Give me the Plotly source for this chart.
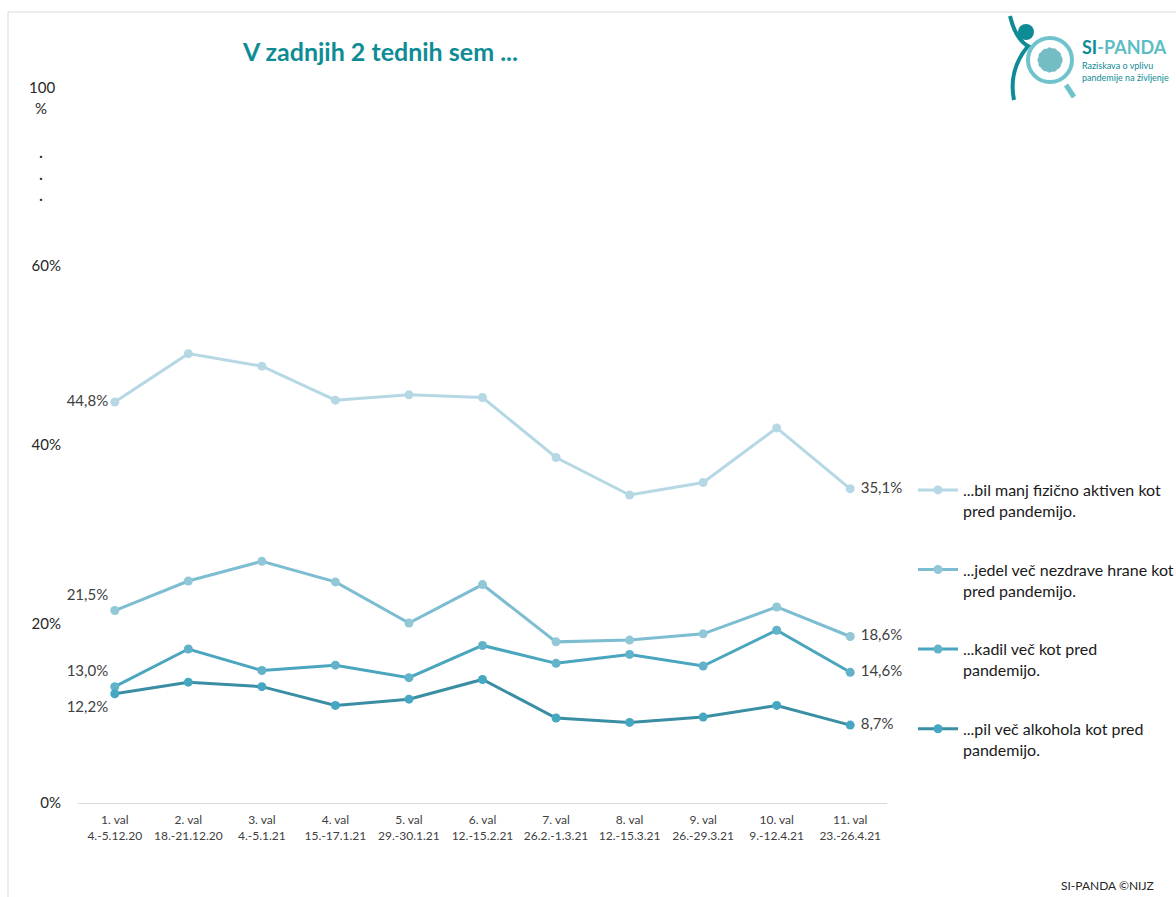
import plotly.graph_objects as go

categories = ["1. val<br>4.-5.12.20", "2. val<br>18.-21.12.20", "3. val<br>4.-5.1.21",
              "4. val<br>15.-17.1.21", "5. val<br>29.-30.1.21", "6. val<br>12.-15.2.21",
              "7. val<br>26.2.-1.3.21", "8. val<br>12.-15.3.21", "9. val<br>26.-29.3.21",
              "10. val<br>9.-12.4.21", "11. val<br>23.-26.4.21"]

manj_aktiven = [44.8, 50.2, 48.8, 45.0, 45.6, 45.3, 38.6, 34.4, 35.8, 41.9, 35.1]
nezdrava_hrana = [21.5, 24.8, 27.0, 24.7, 20.1, 24.4, 18.0, 18.2, 18.9, 21.9, 18.6]
kadil = [13.0, 17.2, 14.8, 15.4, 14.0, 17.6, 15.6, 16.6, 15.3, 19.3, 14.6]
alkohol = [12.2, 13.5, 13.0, 10.9, 11.6, 13.8, 9.5, 9.0, 9.6, 10.9, 8.7]

y_tickvals = [0, 20, 40, 60]
y_ticktext = ["0%", "20%", "40%", "60%"]

names = ["...bil manj fizično aktiven kot<br>pred pandemijo.",
         "...jedel več nezdrave hrane kot<br>pred pandemijo.",
         "...kadil več kot pred<br>pandemijo.",
         "...pil več alkohola kot pred<br>pandemijo."]
series = [manj_aktiven, nezdrava_hrana, kadil, alkohol]
line_colors = ["#B6D8E4", "#7DBDD1", "#4AA6BF", "#3A8EA3"]
marker_colors = ["#B6D8E4", "#92C7D8", "#62B3C9", "#45A7C1"]
first_pos = ["middle left", "top left", "top left", "bottom left"]

FONT = "Lato"

def fmt(v):
    return f"{v:.1f}".replace(".", ",") + "%"

fig = go.Figure()
for i, (nm, vals) in enumerate(zip(names, series)):
    n = len(vals)
    texts = [fmt(vals[0])] + [""] * (n - 2) + [" " + fmt(vals[-1])]
    pos = [first_pos[i]] + ["middle right"] * (n - 1)
    fig.add_trace(go.Scatter(
        x=categories, y=vals, name=nm, mode="lines+markers+text",
        line=dict(color=line_colors[i], width=3),
        marker=dict(color=marker_colors[i], size=9),
        text=texts, textposition=pos,
        textfont=dict(family=FONT, size=15, color="#404040"),
        legendgroup=f"g{i}", cliponaxis=False,
    ))

W, H = 1176, 897
L, R, T, B = 78, 289, 248, 94
pw, ph = W - L - R, H - T - B

def px(x):
    return (x - L) / pw

def py(y):
    return (H - B - y) / ph

fig.update_layout(
    width=W, height=H,
    margin=dict(l=L, r=R, t=T, b=B, autoexpand=False),
    plot_bgcolor="white", paper_bgcolor="white",
    font=dict(family=FONT, color="#262626"),
    title=dict(text="<b>V zadnjih 2 tednih sem ...</b>", x=243 / W, xanchor="left",
               xref="container", y=1 - 52 / H, yanchor="middle", yref="container",
               font=dict(family=FONT, size=25, color="#0E8C96")),
    xaxis=dict(type="category", range=[-0.5, 10.5], showgrid=False,
               showline=True, linecolor="#D9D9D9", linewidth=1,
               tickfont=dict(family=FONT, size=12, color="#404040"), ticks="",
               ticklabelstandoff=6),
    yaxis=dict(range=[0, 62], tickvals=y_tickvals, ticktext=y_ticktext,
               showgrid=False, zeroline=False, showline=False,
               tickfont=dict(family=FONT, size=15, color="#262626"), ticks="",
               ticklabelstandoff=16),
    legend=dict(x=px(913), xanchor="left", y=py(473), yanchor="top",
                font=dict(family=FONT, size=16, color="#1a1a1a"),
                tracegroupgap=35, valign="top", itemwidth=40,
                bgcolor="rgba(0,0,0,0)"),
    showlegend=True,
)

annots = [
    dict(text="100", x=px(42), y=py(87)),
    dict(text="%", x=px(41), y=py(108)),
    dict(text="·", x=px(41), y=py(155)),
    dict(text="·", x=px(41), y=py(177)),
    dict(text="·", x=px(41), y=py(198)),
]
for a in annots:
    fig.add_annotation(xref="paper", yref="paper", showarrow=False,
                       xanchor="center", yanchor="middle",
                       font=dict(family=FONT, size=15, color="#262626"), **a)

# footer
fig.add_annotation(xref="paper", yref="paper", x=px(1156), y=py(885), xanchor="right",
                   yanchor="middle", showarrow=False, text="SI-PANDA ©NIJZ",
                   font=dict(family=FONT, size=12, color="#262626"))

# logo (text approximation)
dx = -8
fig.add_annotation(xref="paper", yref="paper", x=px(1088 + dx), y=py(47), xanchor="left",
                   yanchor="middle", showarrow=False,
                   text="<b><span style='color:#0E8C96'>SI</span>-PANDA</b>",
                   font=dict(family=FONT, size=18, color="#5CBDC6"))
fig.add_annotation(xref="paper", yref="paper", x=px(1088 + dx), y=py(72), xanchor="left",
                   yanchor="middle", showarrow=False,
                   text="Raziskava o vplivu<br>pandemije na življenje",
                   align="left",
                   font=dict(family=FONT, size=9, color="#0E8C96"))
fig.add_shape(type="circle", xref="paper", yref="paper",
              x0=px(1036 + dx), x1=px(1080 + dx), y0=py(82), y1=py(38),
              line=dict(color="#6FC3CB", width=4))
fig.add_shape(type="circle", xref="paper", yref="paper",
              x0=px(1046 + dx), x1=px(1070 + dx), y0=py(72), y1=py(48),
              line=dict(color="#2B9AA3", width=1, dash="dot"), fillcolor="#3AA2AA",
              opacity=0.7)
fig.add_shape(type="line", xref="paper", yref="paper",
              x0=px(1074 + dx), x1=px(1082 + dx), y0=py(85), y1=py(97),
              line=dict(color="#6FC3CB", width=5))
fig.add_shape(type="circle", xref="paper", yref="paper",
              x0=px(1026 + dx), x1=px(1042 + dx), y0=py(40), y1=py(24),
              line=dict(width=0), fillcolor="#0E8C96")
fig.add_shape(type="path", xref="paper", yref="paper",
              path=f"M {px(1018 + dx)} {py(16)} Q {px(1024 + dx)} {py(40)} {px(1036 + dx)} {py(46)} "
                   f"Q {px(1016 + dx)} {py(70)} {px(1022 + dx)} {py(100)}",
              line=dict(color="#0E8C96", width=4))

# outer frame (top and left)
fig.add_shape(type="line", xref="paper", yref="paper", x0=px(8), x1=px(1180),
              y0=py(12), y1=py(12), line=dict(color="#D9D9D9", width=1))
fig.add_shape(type="line", xref="paper", yref="paper", x0=px(8), x1=px(8),
              y0=py(12), y1=py(900), line=dict(color="#D9D9D9", width=1))

fig.write_html("out.html")
